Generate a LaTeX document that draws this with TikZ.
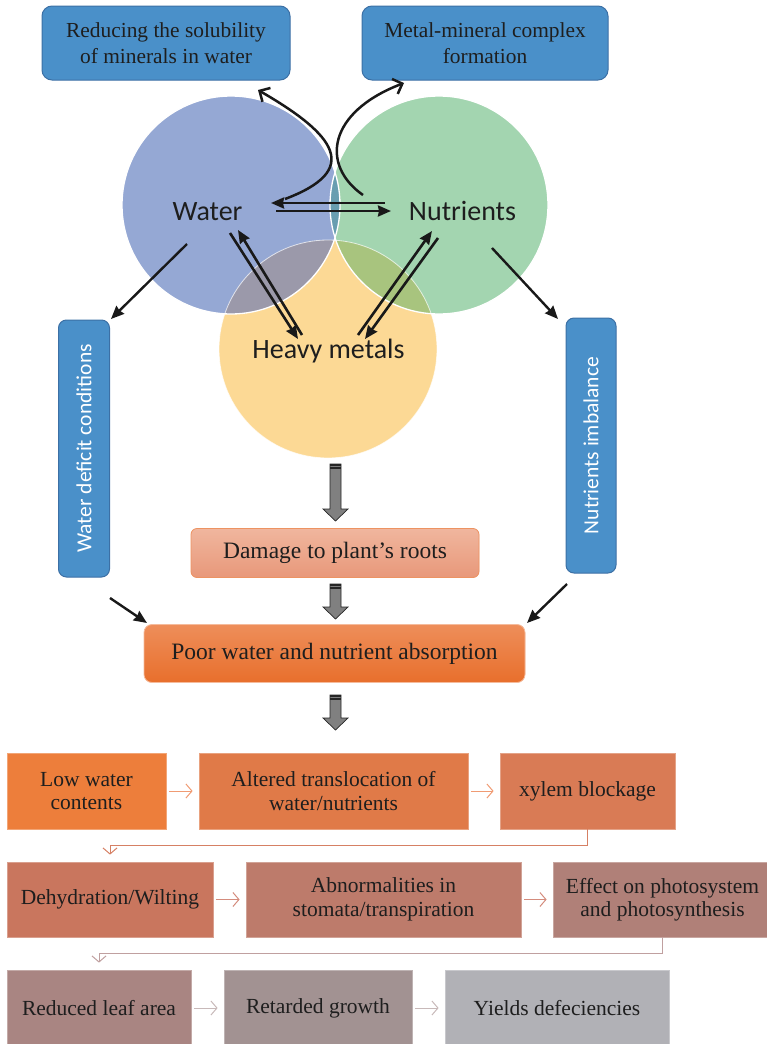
\documentclass[tikz,border=0pt]{standalone}
\usepackage{fontspec}
\setmainfont{Liberation Serif}
\newfontfamily\calfont{Carlito}
\usetikzlibrary{arrows.meta,calc}
\definecolor{boxblue}{RGB}{74,144,201}
\definecolor{boxblueedge}{RGB}{60,112,165}
\definecolor{cblue}{RGB}{149,168,212}
\definecolor{cgreen}{RGB}{163,213,176}
\definecolor{cyellow}{RGB}{252,217,149}
\definecolor{cby}{RGB}{155,153,170}
\definecolor{cgy}{RGB}{168,196,126}
\definecolor{cbg}{RGB}{104,158,176}
\definecolor{txt}{RGB}{30,30,30}
\definecolor{arrgray}{RGB}{128,128,128}
\definecolor{dmgtop}{RGB}{240,182,158}
\definecolor{dmgbot}{RGB}{232,152,122}
\definecolor{poortop}{RGB}{238,142,90}
\definecolor{poorbot}{RGB}{232,111,44}
\definecolor{rA}{RGB}{237,126,59}
\definecolor{rB}{RGB}{224,122,72}
\definecolor{rC}{RGB}{217,123,85}
\definecolor{rD}{RGB}{201,118,94}
\definecolor{rE}{RGB}{189,123,107}
\definecolor{rF}{RGB}{176,128,120}
\definecolor{rG}{RGB}{169,133,130}
\definecolor{rH}{RGB}{162,146,146}
\definecolor{rI}{RGB}{177,177,182}
\definecolor{aA}{RGB}{240,155,115}
\definecolor{aB}{RGB}{214,128,100}
\definecolor{aC}{RGB}{212,140,125}
\definecolor{aD}{RGB}{192,160,160}
\definecolor{aE}{RGB}{200,185,185}
\newcommand{\blockarrow}[3]{%
  \filldraw[fill=arrgray, draw=black!85, line width=0.7pt]
    (#1-5.5,#2) -- (#1+5.5,#2) -- (#1+5.5,#3-12) -- (#1+12.5,#3-12) -- (#1,#3)
    -- (#1-12.5,#3-12) -- (#1-5.5,#3-12) -- cycle;
  \fill[black!85] (#1-5.5,#2) rectangle (#1+5.5,#2+2);
  \fill[black!85] (#1-5.5,#2+3) rectangle (#1+5.5,#2+4.5);
}
\begin{document}
\begin{tikzpicture}[x=1pt,y=-1pt,
  topbox/.style={draw=boxblueedge, line width=1pt, fill=boxblue, rounded corners=10pt,
    text=txt, align=center, inner sep=0pt, font=\fontsize{21.4}{26}\selectfont},
  vbox/.style={draw=boxblueedge, line width=1pt, fill=boxblue, rounded corners=8pt,
    text=white, inner sep=0pt, font=\calfont\fontsize{21.5}{24}\selectfont},
  venn/.style={text=txt, inner sep=0pt, font=\calfont\fontsize{28}{30}\selectfont},
  flowbox/.style={fill=#1, draw=#1!70!white, line width=0.8pt, text=txt, align=center,
    inner sep=0pt, font=\fontsize{21.5}{23.5}\selectfont},
  varr/.style={draw=black!90, line width=2.6pt, -{Stealth[length=13pt,width=11pt,inset=1pt]}},
  carr/.style={draw=black!90, line width=2.5pt, -{Straight Barb[length=8pt,width=16pt]}},
  sarr/.style={draw=black!90, line width=2.4pt, -{Stealth[length=13pt,width=11pt,inset=1pt]}},
  harr/.style={draw=#1, line width=1pt, -{Straight Barb[length=6pt,width=14pt]}},
]
\useasboundingbox (0,0) rectangle (767,1044);

% ---------- Venn circles ----------
\fill[cyellow] (328,349) circle (109);
\fill[cblue] (231,205) circle (109);
\fill[cgreen] (439,205) circle (109);
\begin{scope}
  \clip (328,349) circle (109);
  \fill[cby] (231,205) circle (109);
  \fill[cgy] (439,205) circle (109);
\end{scope}
\begin{scope}
  \clip (231,205) circle (109);
  \fill[cbg] (439,205) circle (109);
\end{scope}
\draw[white, line width=0.8pt, opacity=0.7] (328,349) circle (109);
\draw[white, line width=1.3pt] (231,205) circle (109);
\draw[white, line width=1.3pt] (439,205) circle (109);

\node[venn, anchor=base] (water) at (207.5,220) {Water};
\node[venn, anchor=base] (nutr) at (462.5,220) {Nutrients};
\node[venn, anchor=base] (heavy) at (328.5,358) {Heavy metals};

% ---------- top boxes ----------
\node[topbox, minimum width=248pt, minimum height=74pt] (red) at (166,43)
  {Reducing the solubility\\of minerals in water};
\node[topbox, minimum width=246pt, minimum height=74pt] (mmc) at (485,43)
  {Metal-mineral complex\\formation};

% ---------- side boxes ----------
\node[vbox, rotate=90, minimum width=257pt, minimum height=51pt] (wdc) at (84,448.5)
  {Water deficit conditions};
\node[vbox, rotate=90, minimum width=255pt, minimum height=50pt] (nim) at (591,445.5)
  {Nutrients imbalance};

% ---------- Venn arrows ----------
\coordinate (wnA) at (385,203); \coordinate (wnB) at (271,203);
\coordinate (wnC) at (276,211); \coordinate (wnD) at (391,211);
\draw[varr] (wnA) -- (wnB);
\draw[varr] (wnC) -- (wnD);
\coordinate (whA) at (230,233); \coordinate (whB) at (298,339);
\coordinate (whC) at (302,335); \coordinate (whD) at (238,230);
\draw[varr] (whA) -- (whB);
\draw[varr] (whC) -- (whD);
\coordinate (nhA) at (358,335); \coordinate (nhB) at (432,231);
\coordinate (nhC) at (438,238); \coordinate (nhD) at (365,339);
\draw[varr] (nhA) -- (nhB);
\draw[varr] (nhC) -- (nhD);

% curved arrows to top boxes
\coordinate (cuA) at (285,199); \coordinate (cuB) at (258,90);
\draw[carr] (cuA) .. controls (362,170) and (336,135) .. (cuB);
\coordinate (cvA) at (363,195); \coordinate (cvB) at (404,83);
\draw[carr] (cvA) .. controls (320,165) and (328,112) .. (cvB);

% arrows to side boxes
\coordinate (wsA) at (187,244); \coordinate (wsB) at (111,319);
\draw[sarr] (wsA) -- (wsB);
\coordinate (nsA) at (492,248); \coordinate (nsB) at (558,319);
\draw[sarr] (nsA) -- (nsB);

% ---------- central chain ----------
\node[fill=dmgbot, top color=dmgtop, bottom color=dmgbot, draw=dmgbot!80!orange,
  line width=0.8pt, rounded corners=6pt, minimum width=288pt, minimum height=49pt,
  inner sep=0pt, text=txt, font=\fontsize{23.5}{26}\selectfont] (dmg) at (335,553)
  {Damage to plant’s roots};
\node[fill=poorbot, top color=poortop, bottom color=poorbot, draw=poortop!60!white,
  line width=0.8pt, rounded corners=8pt, minimum width=381pt, minimum height=58pt,
  inner sep=0pt, text=txt, font=\fontsize{23.5}{26}\selectfont] (poor) at (334.5,653.5)
  {Poor water and nutrient absorption};

\blockarrow{335.5}{464}{521}
\blockarrow{335.5}{584}{619}
\blockarrow{335.5}{695}{730}

\coordinate (lpA) at (110,598); \coordinate (lpB) at (147,623);
\draw[sarr] (lpA) -- (lpB);
\coordinate (rpA) at (567,584); \coordinate (rpB) at (527,623);
\draw[sarr] (rpA) -- (rpB);

% ---------- bottom flow ----------
\node[flowbox=rA, minimum width=159pt, minimum height=76pt] (b1) at (86.5,791) {Low water\\contents};
\node[flowbox=rB, minimum width=269pt, minimum height=76pt] (b2) at (333.5,791) {Altered translocation of\\water/nutrients};
\node[flowbox=rC, minimum width=175pt, minimum height=76pt] (b3) at (587.5,791) {xylem blockage};

\node[flowbox=rD, minimum width=206pt, minimum height=75pt] (b4) at (110,899.5) {Dehydration/Wilting};
\node[flowbox=rE, minimum width=275pt, minimum height=75pt] (b5) at (383.5,899.5) {Abnormalities in\\stomata/transpiration};
\node[flowbox=rF, minimum width=219pt, minimum height=75pt] (b6) at (662.5,899.5) {Effect on photosystem\\and photosynthesis};

\node[flowbox=rG, minimum width=184pt, minimum height=76pt] (b7) at (99,1008) {Reduced leaf area};
\node[flowbox=rH, minimum width=188pt, minimum height=76pt] (b8) at (318,1008) {Retarded growth};
\node[flowbox=rI, minimum width=224pt, minimum height=76pt] (b9) at (557,1008) {Yields defeciencies};

\draw[harr=aA] ([xshift=3pt]b1.east) -- ([xshift=-6pt]b2.west);
\draw[harr=aA] ([xshift=3pt]b2.east) -- ([xshift=-6pt]b3.west);
\draw[harr=aC] ([xshift=3pt]b4.east) -- ([xshift=-6pt]b5.west);
\draw[harr=aC] ([xshift=3pt]b5.east) -- ([xshift=-6pt]b6.west);
\draw[harr=aE] ([xshift=3pt]b7.east) -- ([xshift=-6pt]b8.west);
\draw[harr=aE] ([xshift=3pt]b8.east) -- ([xshift=-6pt]b9.west);

\draw[harr=aB] (b3.south) -- ++(0,16) -| ([yshift=7pt]b4.north);
\draw[harr=aD] (b6.south) -- ++(0,16) -| ([yshift=7pt]b7.north);
\end{tikzpicture}
\end{document}
